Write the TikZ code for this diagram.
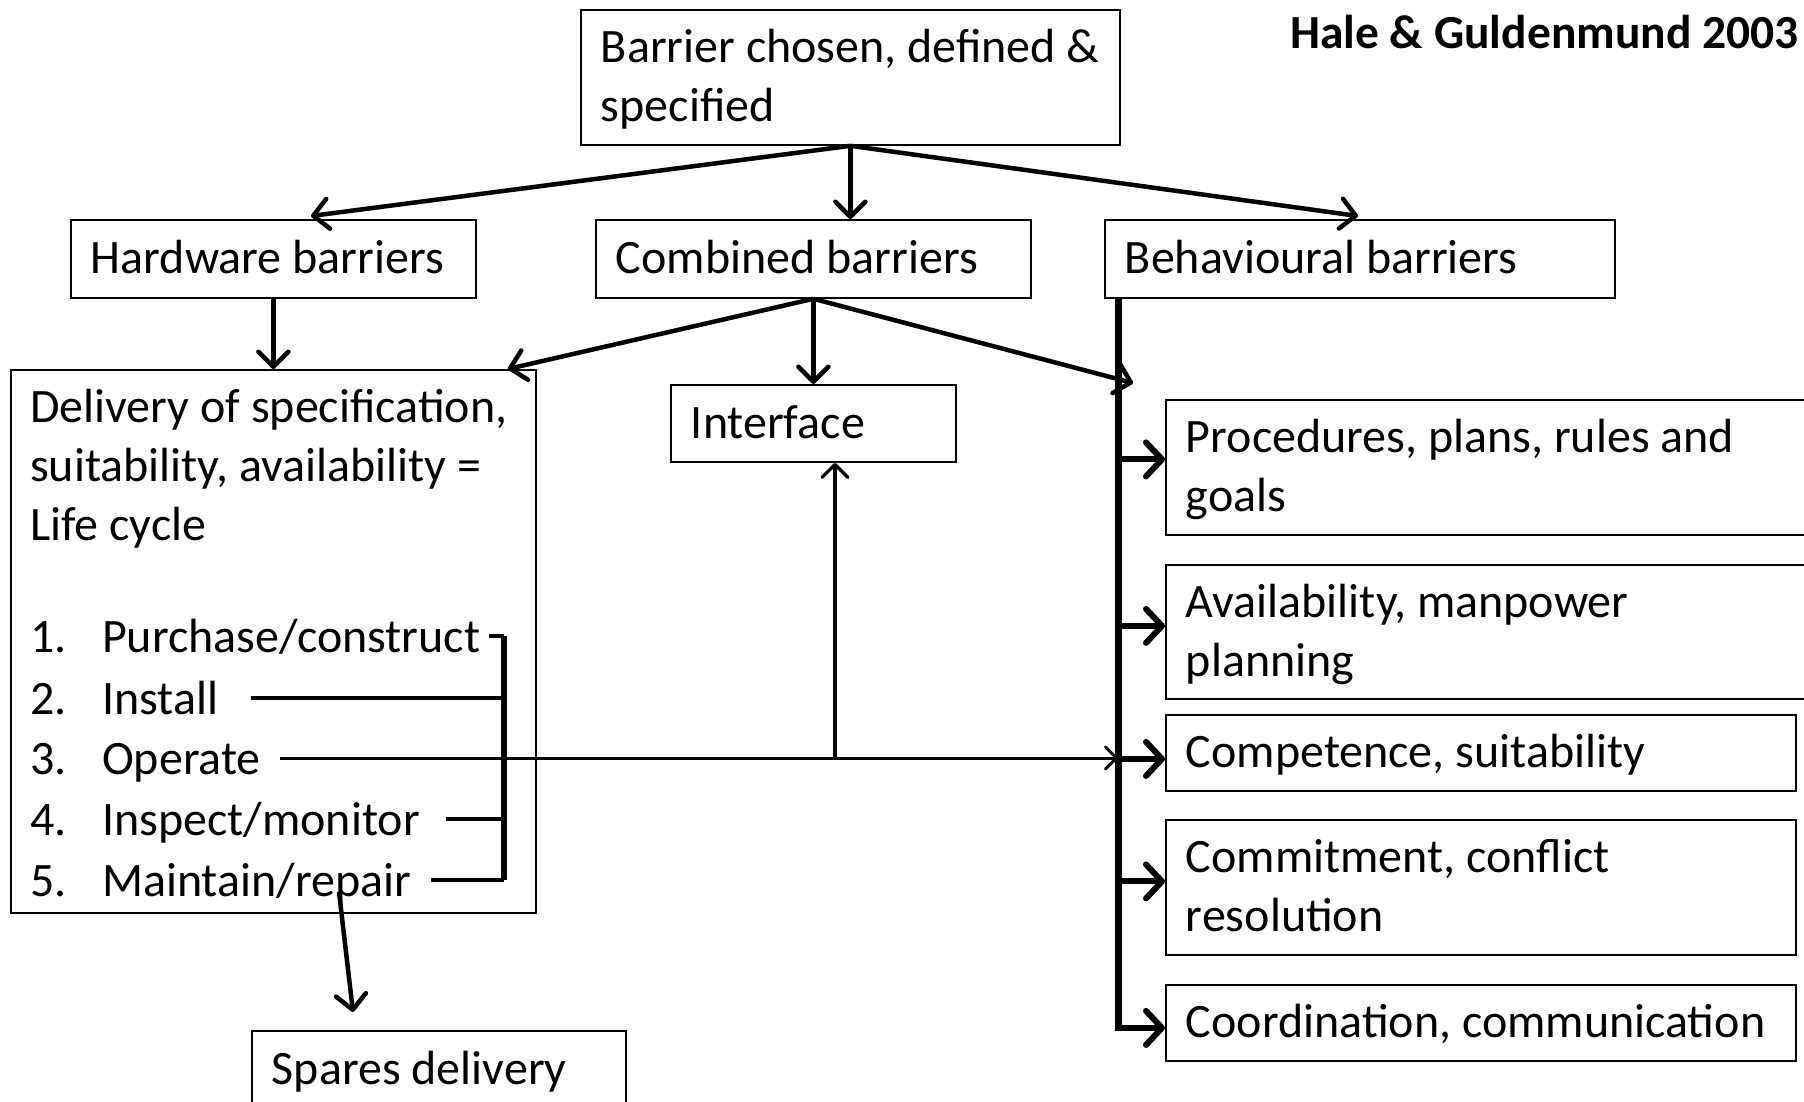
\documentclass[tikz,border=0pt]{standalone}
\usepackage{fontspec}
\setmainfont{Carlito}
\usetikzlibrary{arrows.meta,calc}
\newcommand\boxstrut{\rule[-14.5pt]{0pt}{59pt}}
\begin{document}
\begin{tikzpicture}[x=1pt,y=-1pt,
  txtfont/.style={font=\fontsize{48}{59}\selectfont},
  box/.style={draw, line width=1.8pt, anchor=north west, inner xsep=20pt, inner ysep=0pt, align=flush left, txtfont},
  txt/.style={inner sep=0pt, align=flush left, txtfont},
  ar/.style={line width=4.5pt, -{Straight Barb[round,length=15pt,width=30pt]}},
  br/.style={line width=6pt, -{Straight Barb[round,length=16pt,width=34pt]}},
  thinar/.style={line width=3pt, -{Straight Barb[round,length=11pt,width=22pt]}},
  upar/.style={line width=3.2pt, -{Straight Barb[round,length=13pt,width=26pt]}},
  stub/.style={line width=4.5pt},
]
\useasboundingbox (0,0) rectangle (1804,1101);

% title
\node[font=\bfseries\fontsize{47.5}{59}\selectfont, anchor=base west, inner sep=0pt] (title) at (1290,48) {Hale \& Guldenmund 2003};

% boxes
\node[box, minimum width=539pt, minimum height=135pt, text width=499pt] (top) at (580,9) {\boxstrut\mbox{Barrier chosen, defined \&}\\\boxstrut specified};
\node[box, minimum width=405pt, minimum height=78pt, text width=365pt] (hw) at (70,219) {\boxstrut Hardware barriers};
\node[box, minimum width=435pt, minimum height=78pt, text width=395pt] (comb) at (595,219) {\boxstrut Combined barriers};
\node[box, minimum width=510pt, minimum height=78pt, text width=470pt] (beh) at (1104,219) {\boxstrut Behavioural barriers};
\node[box, minimum width=525pt, minimum height=543pt, text width=485pt] (deliv) at (10,369) {};
\node[box, minimum width=285pt, minimum height=77pt, text width=245pt] (iface) at (670,384) {\boxstrut Interface};
\node[box, minimum width=660pt, minimum height=135pt, text width=620pt] (proc) at (1165,399) {\boxstrut Procedures, plans, rules and\\\boxstrut goals};
\node[box, minimum width=660pt, minimum height=134pt, text width=620pt] (avail) at (1165,564) {\boxstrut Availability, manpower\\\boxstrut planning};
\node[box, minimum width=630pt, minimum height=76pt, text width=590pt] (comp) at (1165,714) {\boxstrut Competence, suitability};
\node[box, minimum width=630pt, minimum height=135pt, text width=590pt] (commit) at (1165,819) {\boxstrut Commitment, conflict\\\boxstrut resolution};
\node[box, minimum width=630pt, minimum height=76pt, text width=590pt] (coord) at (1165,984) {\boxstrut Coordination, communication};
\node[box, minimum width=374pt, minimum height=78pt, text width=334pt] (spares) at (251,1030) {\boxstrut Spares delivery};

% delivery box content
\node[txt, anchor=north west] (dhead) at (30,381) {\strut Delivery of specification,\\\strut suitability, availability =\\\strut Life cycle};
\node[txt, anchor=base west] (i1) at (30,652) {\makebox[72pt][l]{1.}Purchase/construct};
\node[txt, anchor=base west] (i2) at (30,714) {\makebox[72pt][l]{2.}Install};
\node[txt, anchor=base west] (i3) at (30,774) {\makebox[72pt][l]{3.}Operate};
\node[txt, anchor=base west] (i4) at (30,835) {\makebox[72pt][l]{4.}Inspect/monitor};
\node[txt, anchor=base west] (i5) at (30,896) {\makebox[72pt][l]{5.}Maintain/repair};
\foreach \i in {1,...,5} \coordinate (e\i) at ([yshift=16pt]i\i.base east);

% top-level arrows
\coordinate (tHW) at (311,216);
\coordinate (tBeh) at (1358,216);
\draw[ar] (top.south) -- (tHW);
\draw[ar] (top.south) -- (top.south |- comb.north);
\draw[ar] (top.south) -- (tBeh);
\draw[ar] (hw.south) -- (hw.south |- deliv.north);
\draw[ar] (comb.south) -- ([xshift=-29pt]deliv.north east);
\draw[ar] (comb.south) -- (comb.south |- iface.north);
\coordinate (tTr) at (1133,383);
\draw[ar] (comb.south) -- (tTr);

% behavioural trunk
\coordinate (trTop) at ([xshift=14pt]beh.south west);
\coordinate (trBot) at ($(coord.west)+(-47,5)$);
\draw[line width=7pt] (trTop) -- (trTop |- trBot) -- ([xshift=3pt]trBot);
\foreach \n/\s in {proc/-8, avail/-6, comp/6, commit/-6, coord/5}
  \draw[br] ($(\n.west)+(-47,\s)$) -- ($(\n.west)+(0,\s)$);

% bracket of life cycle items
\coordinate (bx) at (504,0);
\draw[line width=5.5pt] (bx |- e1) -- (bx |- e5);
\draw[stub] ([xshift=9pt]e1) -- (bx |- e1);
\draw[stub] ([xshift=33pt]e2) -- (bx |- e2);
\draw[stub] ([xshift=26pt]e4) -- (bx |- e4);
\draw[stub] ([xshift=20pt]e5) -- (bx |- e5);

% operate line to competence, with branch up to interface
\draw[thinar] ([xshift=19pt]e3) -- (trTop |- e3);
\coordinate (up) at ([xshift=21.5pt]iface.south);
\draw[upar] (up |- e3) -- (up);

% spares
\coordinate (sp0) at (339,892);
\draw[ar] (sp0) -- ($(spares.north west)+(102,-18)$);
\end{tikzpicture}
\end{document}
